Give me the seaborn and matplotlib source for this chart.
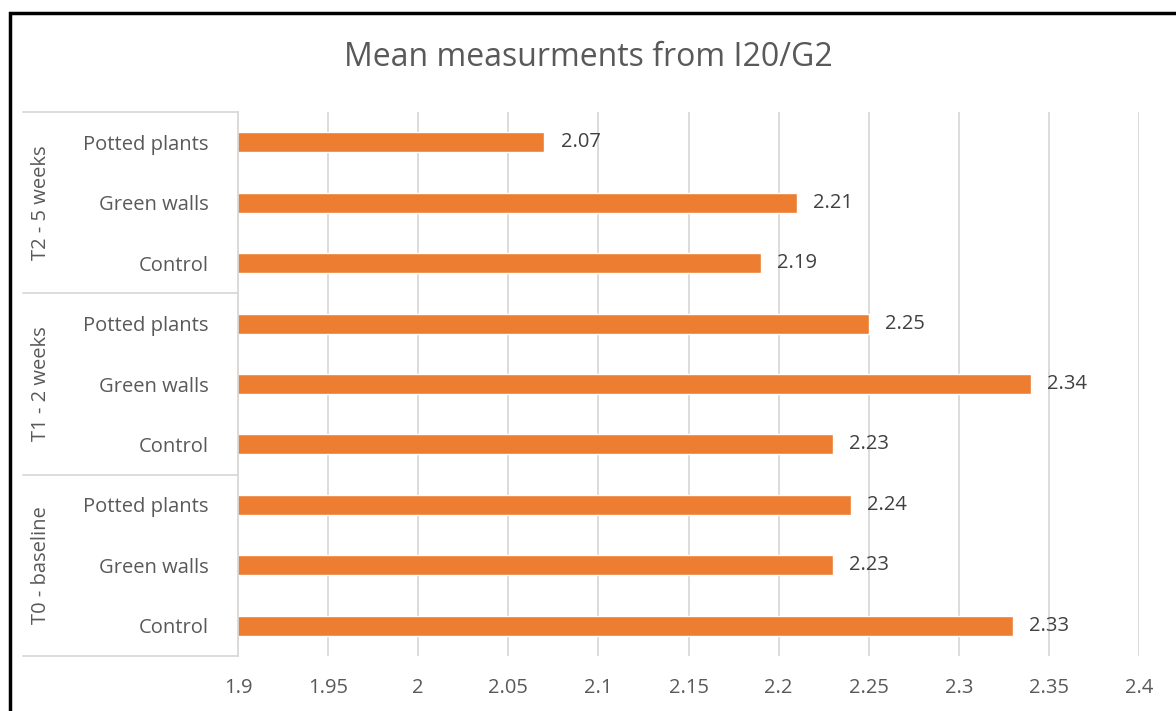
import matplotlib
matplotlib.use("Agg")
import matplotlib.pyplot as plt
import matplotlib.transforms as mtransforms
import seaborn as sns
import pandas as pd
import numpy as np

sns.set_theme(style="white")
plt.rcParams["font.family"] = ["Open Sans", "DejaVu Sans"]

# данные (сверху вниз, как на картинке)
groups = ["T2 - 5 weeks", "T1 - 2 weeks", "T0 - baseline"]
treatments = ["Potted plants", "Green walls", "Control"]
values = [2.07, 2.21, 2.19,
          2.25, 2.34, 2.23,
          2.24, 2.23, 2.33]
x_ticks = [1.9, 1.95, 2, 2.05, 2.1, 2.15, 2.2, 2.25, 2.3, 2.35, 2.4]

rows = []
for g in groups:
    for t in treatments:
        rows.append({"group": g, "treatment": t, "key": g + "|" + t})
df = pd.DataFrame(rows)
df["value"] = values

txt = "#595959"
grid = "#D9D9D9"
orange = "#ED7D31"

fig = plt.figure(figsize=(11.76, 7.11), dpi=100)
ax = fig.add_axes([238 / 1176, 1 - 656 / 711, (1139 - 238) / 1176, (656 - 112) / 711])

sns.barplot(data=df, y="key", x="value", orient="h", color=orange,
            width=0.33, saturation=1, ax=ax)

ax.set_xlim(1.9, 2.4)
ax.set_ylim(len(df) - 0.5, -0.5)
ax.set_xticks(x_ticks)
ax.set_xticklabels([f"{v:g}" for v in x_ticks], color=txt, fontsize=14.5)
ax.set_yticks(range(len(df)))
ax.set_yticklabels(df["treatment"], color=txt, fontsize=14.5)
ax.tick_params(axis="x", length=0, pad=16)
ax.tick_params(axis="y", length=0, pad=21)
ax.set_xlabel("")
ax.set_ylabel("")

ax.xaxis.grid(True, color=grid, linewidth=1.3)
ax.set_axisbelow(True)
for s in ["top", "right", "bottom"]:
    ax.spines[s].set_visible(False)
ax.spines["left"].set_color(grid)
ax.spines["left"].set_linewidth(1.3)

# подписи значений
for i, v in enumerate(values):
    ax.text(v + 0.009, i, f"{v:.2f}", va="center", ha="left",
            color="#404040", fontsize=14.5)

# группы слева
trans = mtransforms.blended_transform_factory(fig.transFigure, ax.transData)
for b in [-0.5, 2.5, 5.5, 8.5]:
    ax.plot([23 / 1176, 238 / 1176], [b, b], transform=trans, color=grid,
            linewidth=1.3, clip_on=False)
for k, g in enumerate(groups):
    ax.text(41 / 1176, 3 * k + 1, g, transform=trans, rotation=90,
            ha="center", va="center", color=txt, fontsize=14.5)

fig.suptitle("Mean measurments from I20/G2", color=txt, fontsize=23,
             y=1 - 58 / 711, va="center")

# рамка
fig.patches.append(plt.Rectangle((10 / 1176, -0.05), 1.2, 1 - 13 / 711 + 0.05,
                                 transform=fig.transFigure, fill=False,
                                 edgecolor="black", linewidth=2.5))

fig.savefig("out.png", dpi=100)
